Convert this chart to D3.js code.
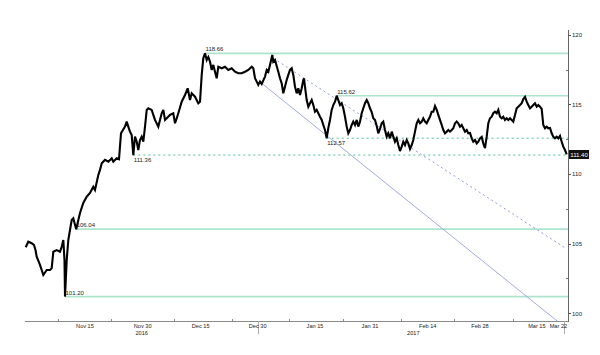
<!DOCTYPE html>
<html>
<head>
<meta charset="utf-8">
<script src="https://cdn.jsdelivr.net/npm/d3@7"></script>
<style>
  html, body { margin: 0; padding: 0; background: #fff; }
  svg { display: block; }
  text { font-family: "Liberation Sans", Arial, sans-serif; }
</style>
</head>
<body>
<div id="chart"></div>
<script>
// Time in days since 30 Oct 2016; price of USD/JPY
const days = [0.19,0.87,1.77,2.38,2.78,3.10,3.97,4.85,5.75,6.62,7.07,7.50,8.40,9.27,9.72,10.15,10.46,10.60,11.05,11.47,11.92,12.37,12.79,13.56,14.57,15.44,16.34,17.22,18.09,18.54,19.42,19.87,20.32,21.19,22.07,22.97,23.39,24.29,24.90,25.43,26.49,26.94,27.36,27.81,28.26,28.69,29.14,29.59,30.01,30.46,30.91,31.34,31.79,32.24,32.66,33.56,33.99,34.44,35.31,36.21,36.64,37.09,37.54,38.41,39.28,39.74,40.19,40.61,41.51,42.38,43.10,43.71,44.16,45.03,45.91,46.36,46.81,47.23,47.68,48.13,48.56,49.01,49.46,49.88,50.33,50.78,51.21,52.11,52.98,53.85,54.75,55.63,56.50,57.40,58.28,59.15,60.05,60.48,60.93,61.38,61.80,62.25,62.70,63.58,64.03,64.45,64.90,65.51,65.77,66.22,67.10,67.55,68.00,68.42,68.87,69.32,69.75,70.20,70.65,71.07,71.52,71.97,72.40,72.85,73.30,73.72,73.91,74.17,74.62,75.05,75.50,75.95,76.37,76.82,77.27,77.70,78.15,78.60,79.02,79.47,79.92,80.34,80.79,81.24,81.67,82.12,82.57,82.99,83.44,83.89,84.32,84.77,85.22,85.64,86.09,86.54,86.96,87.42,87.87,88.29,88.74,89.19,89.62,90.07,90.52,90.94,91.39,91.84,92.26,92.72,93.17,93.59,94.04,94.49,94.91,95.36,95.81,96.24,96.69,97.14,97.56,98.01,98.46,98.89,99.34,99.79,100.21,100.66,101.11,101.54,101.99,102.44,102.86,103.31,103.76,104.19,104.64,105.09,105.51,105.96,106.41,106.83,107.28,107.73,108.16,108.61,109.06,109.48,109.93,110.38,110.81,111.26,111.71,112.13,112.58,113.03,113.46,113.91,114.36,114.78,115.23,115.68,116.11,116.56,117.01,117.43,117.88,118.33,118.75,119.21,119.66,120.08,120.53,120.98,121.40,121.85,122.30,122.73,123.18,123.63,124.05,124.50,124.95,125.38,125.83,126.28,126.70,127.15,127.60,128.03,128.48,128.93,129.35,129.80,130.25,130.67,131.13,131.58,132.00,132.45,132.90,133.32,133.77,134.22,134.65,135.10,135.55,135.97,136.42,136.87,137.29,137.74,138.19,138.62,139.07,139.52,139.94,140.39,140.84,141.27,141.72,142.17,142.59,143.04,143.49];
const prices = [104.74,105.14,105.03,104.90,104.54,104.06,103.47,102.75,103.11,103.11,103.23,104.42,104.54,104.42,104.78,105.26,103.83,101.20,103.83,105.26,105.98,106.70,106.82,106.04,107.20,107.92,108.37,108.64,109.09,108.85,109.93,110.29,110.77,111.01,110.88,111.13,110.88,111.13,111.06,112.92,113.40,113.76,113.40,113.04,112.80,111.36,112.68,112.32,111.72,112.44,112.68,112.32,113.40,114.60,114.72,114.60,114.24,113.88,113.40,114.36,114.60,113.88,114.00,114.24,114.36,113.64,114.00,114.36,115.19,115.67,116.15,115.31,115.79,115.55,115.08,115.19,117.11,118.31,118.66,118.18,118.40,118.06,117.47,117.83,117.34,116.87,117.70,117.59,117.70,117.47,117.59,117.34,117.23,117.23,117.34,117.47,117.70,117.59,116.87,116.63,116.39,116.63,116.46,116.99,117.47,117.34,117.83,118.54,118.06,118.18,117.34,116.87,116.51,115.79,116.27,116.75,117.11,117.47,117.59,117.11,116.27,115.79,116.15,115.67,116.15,116.75,116.87,116.27,115.31,114.83,115.08,115.31,114.95,114.47,114.60,114.36,114.11,113.88,113.52,113.16,112.57,113.28,113.88,114.60,114.95,115.19,115.62,115.31,114.95,115.08,114.72,114.11,113.40,112.92,113.16,113.52,113.76,113.52,113.88,113.40,113.76,114.36,114.72,115.08,115.31,115.08,114.72,114.45,114.00,113.88,113.45,112.92,113.23,113.64,113.76,113.16,112.68,112.92,112.56,113.04,112.68,112.32,112.56,112.08,111.65,111.96,112.32,112.08,112.44,112.20,111.80,112.08,112.44,113.04,113.64,113.88,113.64,113.76,114.00,113.76,113.64,113.88,114.11,114.47,114.47,114.88,114.60,114.24,113.88,113.52,113.16,112.92,113.04,113.16,113.04,113.16,113.28,113.64,113.76,113.64,113.40,113.52,113.28,113.04,113.16,112.92,112.94,112.56,112.32,112.44,112.20,112.32,112.56,112.66,112.20,111.85,112.68,113.64,114.00,114.11,114.36,114.47,114.36,114.60,114.11,114.00,114.11,113.88,114.00,113.88,114.00,113.88,113.76,114.24,114.72,114.83,114.95,115.08,115.38,115.53,115.19,114.95,114.72,114.83,114.95,115.08,114.83,114.95,114.83,114.67,113.52,113.28,113.40,113.28,113.30,112.92,112.68,112.56,112.68,112.56,112.73,112.32,111.96,111.72,111.40];

const lastPrice = 111.40;

// Horizontal support / resistance levels
const levelValues   = [118.66, 115.62, 112.57, 111.36, 106.04, 101.20];
const levelStartDay = [47.68, 82.57, 79.92, 28.69, 13.56, 10.60];
const levelDashed   = [false, false, true, true, false, false];
const levelLabelAbove = [true, true, false, false, true, true];

// Trend lines (start/end day, start/end price)
const solidTrendDays = [62.70, 141.19];
const solidTrendVals = [116.51, 99.40];
const dashTrendDays  = [65.77, 143.23];
const dashTrendVals  = [118.31, 104.67];

// Axes
const yTicks = [100, 105, 110, 115, 120];
const yMinorTicks = [102.5, 107.5, 112.5, 117.5];
const xLabelText = ["Nov 15","Nov 30","Dec 15","Dec 30","Jan 15","Jan 31","Feb 14","Feb 28","Mar 15","Mar 22"];
const xLabelDays = [15.89, 31.18, 46.54, 61.64, 76.82, 91.39, 106.67, 120.53, 135.60, 141.30];
const xTickDays  = [8.74, 22.78, 39.47, 54.91, 70.01, 84.32, 99.52, 113.64, 129.19];
const yearText = ["2016", "2017"];
const yearDays = [30.91, 102.86];
const yearBreakDays = [61.80, 142.78];

const W = 600, H = 355;
const svg = d3.select("#chart").append("svg").attr("width", W).attr("height", H);
svg.append("rect").attr("width", W).attr("height", H).attr("fill", "#fff");

const x = d3.scaleLinear().domain([0, 143.84]).range([25, 568]);
const y = d3.scaleLinear().domain([99.4, 120.48]).range([321.66, 28]);

const FS = 6;
const txtCol = "#222";

// Level lines
levelValues.forEach((v, i) => {
  svg.append("line")
    .attr("x1", x(levelStartDay[i])).attr("x2", 568)
    .attr("y1", y(v)).attr("y2", y(v))
    .attr("stroke", levelDashed[i] ? "#4fc393" : "#ace4cc")
    .attr("stroke-width", levelDashed[i] ? 1 : 1.6)
    .attr("stroke-dasharray", levelDashed[i] ? "2,3" : null);
});

// Trend lines
const tl = d3.line().x(d => x(d[0])).y(d => y(d[1]));
svg.append("path")
  .attr("d", tl(d3.zip(solidTrendDays, solidTrendVals)))
  .attr("stroke", "#a3aae3").attr("stroke-width", 1).attr("fill", "none");
svg.append("path")
  .attr("d", tl(d3.zip(dashTrendDays, dashTrendVals)))
  .attr("stroke", "#8e9ae0").attr("stroke-width", 1).attr("fill", "none")
  .attr("stroke-dasharray", "2,3");

// Price line
svg.append("path")
  .attr("d", d3.line().x(d => x(d[0])).y(d => y(d[1]))(d3.zip(days, prices)))
  .attr("fill", "none").attr("stroke", "#000").attr("stroke-width", 2.1)
  .attr("stroke-linejoin", "miter").attr("stroke-miterlimit", 3);

// Level labels (on top)
levelValues.forEach((v, i) => {
  svg.append("text")
    .attr("x", x(levelStartDay[i]) + 0.5)
    .attr("y", levelLabelAbove[i] ? y(v) - 2 : y(v) + 7)
    .attr("font-size", FS).attr("fill", txtCol)
    .text(v.toFixed(2));
});

// X axis
svg.append("line").attr("x1", 25).attr("x2", 568).attr("y1", 321.5).attr("y2", 321.5)
  .attr("stroke", "#8a8a8a").attr("stroke-width", 1);
xTickDays.forEach(d => {
  svg.append("line").attr("x1", Math.round(x(d)) + 0.5).attr("x2", Math.round(x(d)) + 0.5)
    .attr("y1", 319).attr("y2", 322).attr("stroke", "#8a8a8a");
});
yearBreakDays.forEach(d => {
  svg.append("line").attr("x1", Math.round(x(d)) + 0.5).attr("x2", Math.round(x(d)) + 0.5)
    .attr("y1", 321).attr("y2", 334).attr("stroke", "#aaa");
});
xLabelText.forEach((t, i) => {
  svg.append("text").attr("x", x(xLabelDays[i])).attr("y", 328)
    .attr("text-anchor", "middle").attr("font-size", 5.6).attr("fill", txtCol).text(t);
});
yearText.forEach((t, i) => {
  svg.append("text").attr("x", x(yearDays[i])).attr("y", 334.5)
    .attr("text-anchor", "middle").attr("font-size", 5.6).attr("fill", txtCol).text(t);
});

// Right Y axis
svg.append("line").attr("x1", 568.5).attr("x2", 568.5).attr("y1", 30).attr("y2", 322)
  .attr("stroke", "#666").attr("stroke-width", 1);
yTicks.forEach(v => {
  svg.append("line").attr("x1", 568).attr("x2", 571).attr("y1", Math.round(y(v)) + 0.5).attr("y2", Math.round(y(v)) + 0.5)
    .attr("stroke", "#555");
  svg.append("text").attr("x", 572).attr("y", y(v) + 2.2)
    .attr("font-size", FS).attr("fill", txtCol).text(v);
});
yMinorTicks.forEach(v => {
  svg.append("line").attr("x1", 566).attr("x2", 568).attr("y1", Math.round(y(v)) + 0.5).attr("y2", Math.round(y(v)) + 0.5)
    .attr("stroke", "#777");
});

// Last price tag
const ly = y(lastPrice);
svg.append("rect").attr("x", 569).attr("y", ly - 4.5).attr("width", 20).attr("height", 9).attr("fill", "#111");
svg.append("text").attr("x", 579).attr("y", ly + 2.2).attr("text-anchor", "middle")
  .attr("font-size", FS).attr("fill", "#fff").text(lastPrice.toFixed(2));
</script>
</body>
</html>
